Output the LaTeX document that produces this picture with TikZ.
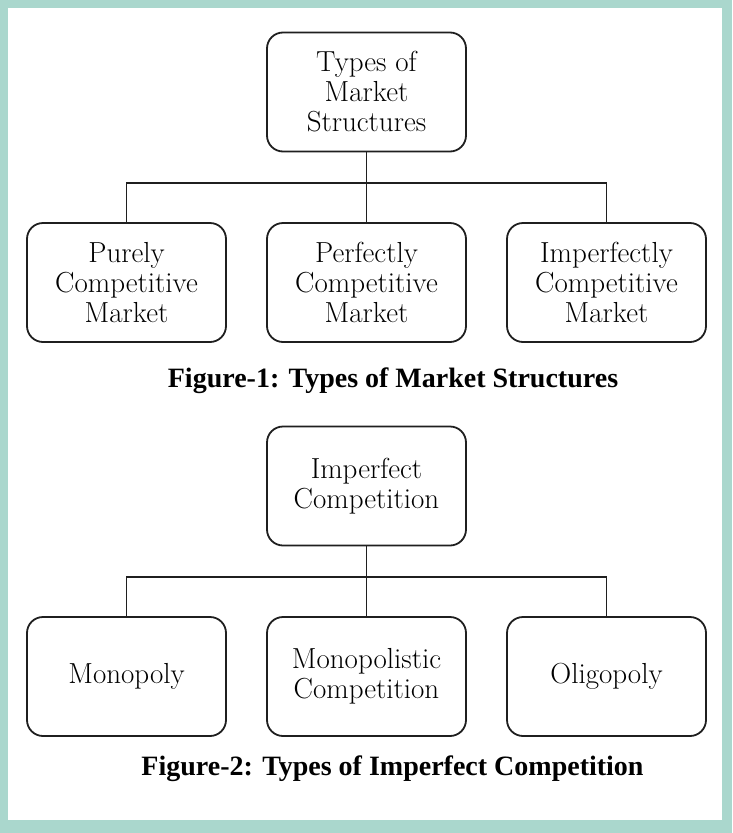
\documentclass[tikz,border=0pt]{standalone}
\usepackage{fontspec}
\newfontfamily\capfont{Liberation Serif}
\begin{document}
\begin{tikzpicture}[x=1pt,y=-1pt,
  box/.style={draw=black!88, line width=1.8pt, rounded corners=16pt, minimum width=199pt, minimum height=119pt, align=center, font=\fontsize{29}{30}\selectfont, inner sep=0pt, fill=white},
  conn/.style={draw=black!88, line width=1.8pt},
  figcap/.style={font=\capfont\fontsize{28}{30}\selectfont\bfseries, anchor=center}]
\fill[fill={rgb,255:red,170;green,215;blue,205}] (0,0) rectangle (732,833);
\fill[white] (8,8) rectangle (722,820);
\useasboundingbox (0,0) rectangle (732,833);
% Figure 1
\node[box] (t1) at (366.5,92) {Types of\\Market\\Structures};
\node[box] (a1) at (126.5,282.5) {Purely\\Competitive\\Market};
\node[box] (b1) at (366.5,282.5) {Perfectly\\Competitive\\Market};
\node[box] (c1) at (606.5,282.5) {Imperfectly\\Competitive\\Market};
\coordinate (h1) at (366.5,183);
\draw[conn] (t1.south) -- (b1.north);
\draw[conn] (a1.north) |- (h1) -| (c1.north);
\node[figcap] (f1) at (393,381) {Figure-1: Types of Market Structures};
% Figure 2
\node[box] (t2) at (366.5,486) {Imperfect\\Competition};
\node[box] (a2) at (126.5,676.5) {Monopoly};
\node[box] (b2) at (366.5,676.5) {Monopolistic\\Competition};
\node[box] (c2) at (606.5,676.5) {Oligopoly};
\coordinate (h2) at (366.5,577);
\draw[conn] (t2.south) -- (b2.north);
\draw[conn] (a2.north) |- (h2) -| (c2.north);
\node[figcap] (f2) at (392.5,769) {Figure-2: Types of Imperfect Competition};
\end{tikzpicture}
\end{document}
